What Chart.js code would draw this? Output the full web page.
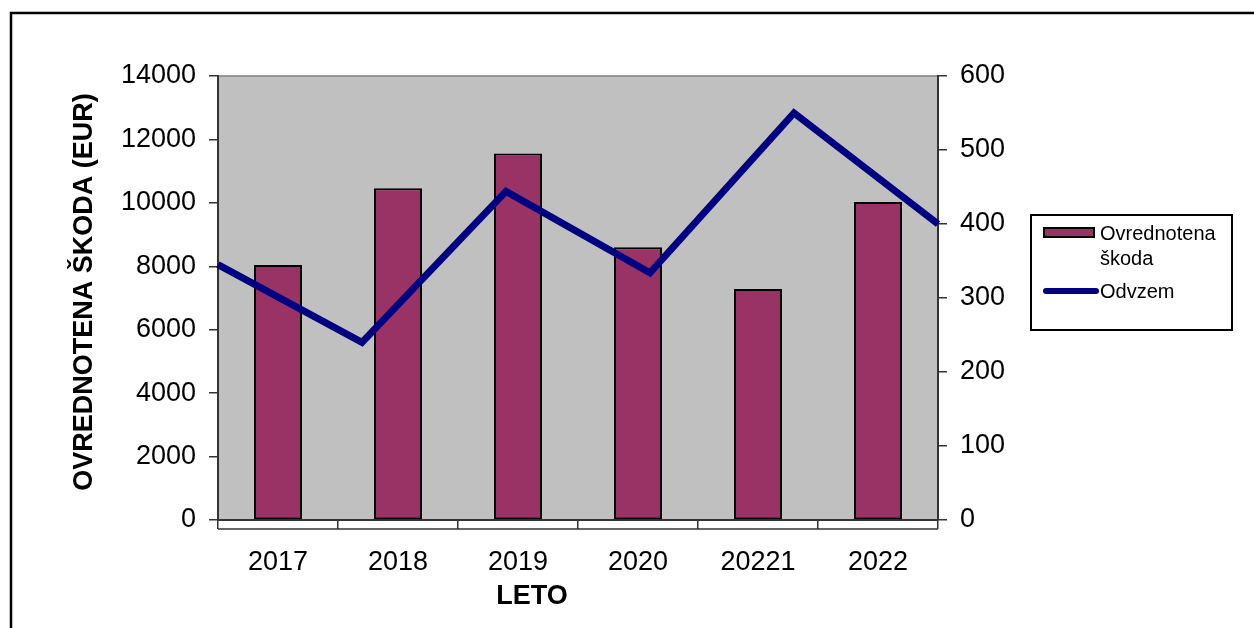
<!DOCTYPE html>
<html>
<head>
<meta charset="utf-8">
<script src="https://cdn.jsdelivr.net/npm/chart.js@4.4.1/dist/chart.umd.min.js"></script>
<style>
html,body{margin:0;padding:0;background:#fff;}
#wrap{width:1254px;height:628px;position:relative;}
</style>
</head>
<body>
<div id="wrap"><canvas id="c" width="1254" height="628"></canvas></div>
<script>
const categories = ['2017', '2018', '2019', '2020', '20221', '2022'];
const skodaValues = [8040, 10460, 11560, 8600, 7280, 10030];
const odvzemValues = [345, 240, 444, 334, 550, 400];
const leftTicks = [0, 2000, 4000, 6000, 8000, 10000, 12000, 14000];
const rightTicks = [0, 100, 200, 300, 400, 500, 600];
const seriesNames = ['Ovrednotena škoda', 'Odvzem'];
const yTitle = 'OVREDNOTENA ŠKODA (EUR)';
const xTitle = 'LETO';

const FONT = "'Liberation Sans', Arial, sans-serif";

const decor = {
  id: 'decor',
  beforeDraw(chart) {
    const ctx = chart.ctx, a = chart.chartArea;
    ctx.save();
    ctx.fillStyle = '#fff';
    ctx.fillRect(0, 0, chart.width, chart.height);
    ctx.strokeStyle = '#000';
    ctx.lineWidth = 2.5;
    ctx.strokeRect(11, 13, chart.width + 20, chart.height + 20);
    ctx.fillStyle = '#C0C0C0';
    ctx.fillRect(a.left, a.top, a.right - a.left, a.bottom - a.top);
    ctx.strokeStyle = '#808080';
    ctx.lineWidth = 1.5;
    ctx.beginPath();
    ctx.moveTo(a.left, a.top); ctx.lineTo(a.right, a.top);
    ctx.stroke();
    ctx.restore();
  },
  afterDraw(chart) {
    const ctx = chart.ctx, a = chart.chartArea;
    ctx.save();
    ctx.strokeStyle = '#333';
    ctx.lineWidth = 1.5;
    ctx.beginPath();
    ctx.moveTo(a.left, a.bottom + 9); ctx.lineTo(a.right, a.bottom + 9);
    ctx.stroke();
    ctx.fillStyle = '#000';
    ctx.font = "bold 27px " + FONT;
    ctx.textAlign = 'center';
    ctx.textBaseline = 'middle';
    ctx.fillText(xTitle, 532, 597);
    // y title
    ctx.save();
    ctx.translate(85, 292);
    ctx.rotate(-Math.PI / 2);
    ctx.fillText(yTitle, 0, 0);
    ctx.restore();
    // legend
    ctx.lineWidth = 2;
    ctx.strokeStyle = '#000';
    ctx.strokeRect(1031, 215, 201, 115);
    ctx.fillStyle = '#993366';
    ctx.fillRect(1044, 228, 50, 9);
    ctx.lineWidth = 2;
    ctx.strokeRect(1044, 228, 50, 9);
    ctx.strokeStyle = '#000080';
    ctx.lineWidth = 6;
    ctx.lineCap = 'round';
    ctx.beginPath();
    ctx.moveTo(1046, 291); ctx.lineTo(1096, 291);
    ctx.stroke();
    ctx.fillStyle = '#000';
    ctx.font = "20px " + FONT;
    ctx.textAlign = 'left';
    ctx.textBaseline = 'middle';
    const parts = seriesNames[0].split(' ');
    ctx.fillText(parts[0], 1100, 234);
    ctx.fillText(parts[1], 1100, 259);
    ctx.fillText(seriesNames[1], 1100, 292);
    ctx.restore();
  }
};

new Chart(document.getElementById('c'), {
  type: 'bar',
  data: {
    labels: categories,
    datasets: [
      {
        type: 'bar',
        label: seriesNames[0],
        data: skodaValues,
        xAxisID: 'x',
        yAxisID: 'y',
        backgroundColor: '#993366',
        borderColor: '#000',
        borderWidth: 2,
        borderSkipped: false,
        grouped: false,
        categoryPercentage: 1.0,
        barPercentage: 0.4,
        order: 1
      },
      {
        type: 'line',
        label: seriesNames[1],
        data: odvzemValues,
        xAxisID: 'x2',
        yAxisID: 'y2',
        borderColor: '#000080',
        borderWidth: 7,
        borderJoinStyle: 'miter',
        pointRadius: 0,
        tension: 0,
        order: 0
      }
    ]
  },
  options: {
    responsive: false,
    animation: false,
    devicePixelRatio: 1,
    layout: { padding: { left: 0, right: 0, top: 76, bottom: 0 } },
    plugins: { legend: { display: false }, tooltip: { enabled: false } },
    scales: {
      x: {
        type: 'category',
        position: 'bottom',
        offset: true,
        afterFit(s) { s.height = 108; },
        grid: { offset: true, drawOnChartArea: false, drawTicks: true, tickLength: 9, color: '#333', lineWidth: 1.5 },
        border: { display: true, color: '#333', width: 2 },
        ticks: { color: '#000', font: { family: FONT, size: 27 }, padding: 17, maxRotation: 0 }
      },
      x2: {
        type: 'category',
        display: false,
        offset: false,
        labels: categories
      },
      y: {
        position: 'left',
        min: 0, max: 14000,
        afterFit(s) { s.width = 218; },
        afterBuildTicks(s) { s.ticks = leftTicks.map(v => ({ value: v })); },
        grid: { drawOnChartArea: false, drawTicks: true, tickLength: 9, color: '#333', lineWidth: 1.5 },
        border: { display: true, color: '#333', width: 2 },
        ticks: { color: '#000', font: { family: FONT, size: 27 }, padding: 13, callback: v => String(v) }
      },
      y2: {
        position: 'right',
        min: 0, max: 600,
        afterFit(s) { s.width = 316; },
        afterBuildTicks(s) { s.ticks = rightTicks.map(v => ({ value: v })); },
        grid: { drawOnChartArea: false, drawTicks: true, tickLength: 9, color: '#333', lineWidth: 1.5 },
        border: { display: true, color: '#333', width: 2 },
        ticks: { color: '#000', font: { family: FONT, size: 27 }, padding: 13, callback: v => String(v) }
      }
    }
  },
  plugins: [decor]
});
</script>
</body>
</html>
